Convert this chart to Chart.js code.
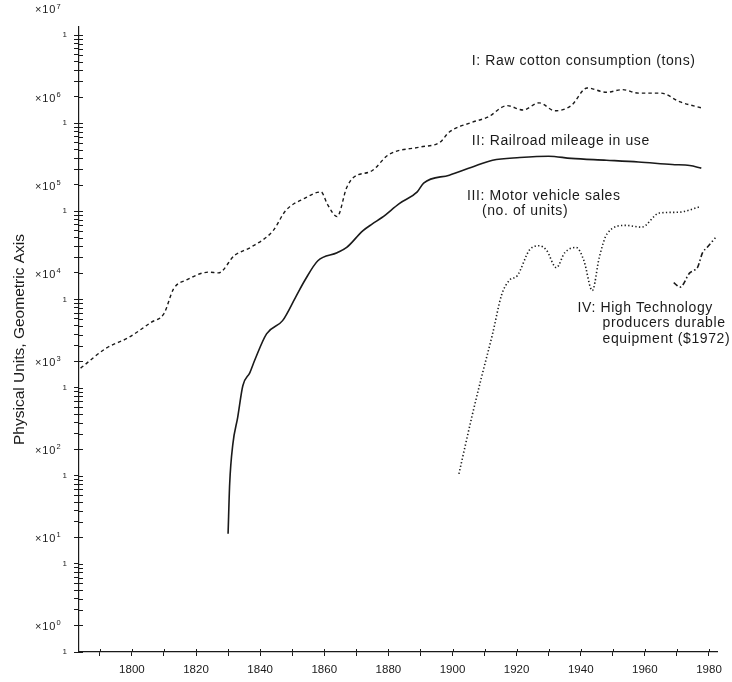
<!DOCTYPE html>
<html>
<head>
<meta charset="utf-8">
<title>Physical Units, Geometric Axis</title>
<script src="https://cdn.jsdelivr.net/npm/chart.js@4.4.1/dist/chart.umd.min.js"></script>
<style>
  html, body { margin: 0; padding: 0; background: #fff; }
</style>
</head>
<body>
<canvas id="chart" width="732" height="682"></canvas>
<script>
// I: raw cotton consumption (tons)
const cottonYears = [1784, 1792, 1799, 1806, 1810, 1813, 1817, 1824, 1827, 1832, 1837, 1844, 1848, 1854, 1859, 1861, 1864, 1867, 1869, 1875, 1880, 1890, 1896, 1899, 1906, 1911, 1917, 1922, 1927, 1932, 1937, 1942, 1948, 1953, 1958, 1965, 1971, 1978];
const cottonTons = [1660, 2800, 3700, 5500, 6900, 13200, 16600, 20400, 20000, 31600, 38900, 60000, 102000, 141000, 166000, 120000, 87000, 186000, 240000, 290000, 437000, 537000, 603000, 794000, 1020000, 1170000, 1580000, 1410000, 1700000, 1380000, 1580000, 2510000, 2240000, 2400000, 2190000, 2190000, 1740000, 1480000];

// II: railroad mileage in use
const railYears = [1830, 1830.5, 1831.5, 1833, 1834.6, 1836.8, 1838.3, 1842, 1847, 1851, 1854, 1858, 1864, 1867, 1872, 1875, 1878, 1883.5, 1889, 1891, 1899, 1906, 1912.5, 1921, 1930, 1937, 1948, 1958, 1968.5, 1974, 1977.6];
const railMiles = [22, 81, 230, 460, 1050, 1480, 2040, 4070, 5750, 10500, 16600, 27500, 33900, 38900, 60000, 72000, 85000, 123000, 166000, 209000, 257000, 316000, 380000, 407000, 422000, 398000, 380000, 363000, 339000, 331000, 309000];

// III: motor vehicle sales (no. of units)
const motorYears = [1902, 1906, 1909, 1912.5, 1915.3, 1917.8, 1920.2, 1924, 1927, 1929.3, 1932.4, 1935, 1938.6, 1941, 1943.6, 1945.8, 1948.3, 1954, 1959, 1964.5, 1970.7, 1977];
const motorUnits = [105, 460, 1290, 4070, 11200, 16600, 18600, 36300, 40700, 36300, 22900, 33900, 38900, 27500, 12600, 30200, 56200, 69200, 66100, 95500, 97700, 112000];

// IV: high technology producers durable equipment ($1972)
const techYears = [1969, 1971, 1974, 1975.4, 1976.4, 1978, 1979.4, 1982];
const techDollars = [15500, 13800, 20000, 21400, 22900, 33900, 38900, 50100];

// axis ticks
const xTickYears = [1790, 1800, 1810, 1820, 1830, 1840, 1850, 1860, 1870, 1880, 1890, 1900, 1910, 1920, 1930, 1940, 1950, 1960, 1970, 1980];
const decadeExponents = [0, 1, 2, 3, 4, 5, 6, 7];

const FONT = '"Liberation Sans", Arial, Helvetica, sans-serif';
const INK = '#1a1a1a';

const decadeValues = new Set(decadeExponents.map(n => Math.pow(10, n)));
const yTicks = [];
decadeExponents.forEach(n => {
  const base = Math.pow(10, n);
  yTicks.push({ value: base, major: true });
  if (n < 7) {
    for (let k = 2; k <= 9; k++) yTicks.push({ value: k * base, major: false });
  }
});

function points(xs, ys) {
  return xs.map((x, i) => ({ x: x, y: ys[i] }));
}

// text labels beside the curves, anchored in data coordinates
const curveLabels = [
  { lines: ['I: Raw cotton consumption (tons)'], year: 1906, value: Math.pow(10, 6.705), indent: 0 },
  { lines: ['II: Railroad mileage in use'], year: 1906, value: Math.pow(10, 5.798), indent: 0 },
  { lines: ['III: Motor vehicle sales', '(no. of units)'], year: 1904.5, value: Math.pow(10, 5.174), indent: 15 },
  { lines: ['IV: High Technology', 'producers durable', 'equipment ($1972)'], year: 1939, value: Math.pow(10, 3.902), indent: 25 }
];

// ticks that cross the axis line
const tickCross = {
  id: 'tickCross',
  afterDraw(chart) {
    const { ctx } = chart;
    const x = chart.scales.x, y = chart.scales.y;
    ctx.save();
    ctx.strokeStyle = INK;
    ctx.lineWidth = 1;
    ctx.beginPath();
    y.ticks.forEach((t, i) => {
      const py = Math.round(y.getPixelForTick(i)) + 0.5;
      ctx.moveTo(y.right, py);
      ctx.lineTo(y.right + 4, py);
    });
    x.ticks.forEach((t, i) => {
      const px = Math.round(x.getPixelForTick(i)) + 0.5;
      ctx.moveTo(px, x.top);
      ctx.lineTo(px, x.top - 3);
    });
    ctx.stroke();
    ctx.restore();
  }
};

// "x10^n" decade labels and the curve captions
const textLayer = {
  id: 'textLayer',
  afterDraw(chart) {
    const { ctx } = chart;
    const x = chart.scales.x, y = chart.scales.y;
    ctx.save();
    ctx.fillStyle = INK;
    ctx.textBaseline = 'middle';
    ctx.textAlign = 'left';

    decadeExponents.forEach(n => {
      const py = y.getPixelForValue(1.9 * Math.pow(10, n));
      const left = y.right - 44;
      ctx.font = '11px ' + FONT;
      ctx.letterSpacing = '0.8px';
      ctx.fillText('\u00d710', left, py);
      const w = ctx.measureText('\u00d710').width;
      ctx.font = '7.5px ' + FONT;
      ctx.letterSpacing = '0px';
      ctx.fillText(String(n), left + w + 0.5, py - 4);
    });

    ctx.font = '14px ' + FONT;
    ctx.letterSpacing = '0.6px';
    curveLabels.forEach(lab => {
      const px = x.getPixelForValue(lab.year);
      const py = y.getPixelForValue(lab.value);
      lab.lines.forEach((line, i) => {
        ctx.fillText(line, px + (i ? lab.indent : 0), py + i * 15.5);
      });
    });
    ctx.restore();
  }
};

const ctx = document.getElementById('chart').getContext('2d');
new Chart(ctx, {
  type: 'line',
  data: {
    datasets: [
      {
        label: 'I: Raw cotton consumption (tons)',
        data: points(cottonYears, cottonTons),
        borderColor: INK,
        borderWidth: 1.4,
        borderDash: [3.5, 3]
      },
      {
        label: 'II: Railroad mileage in use',
        data: points(railYears, railMiles),
        borderColor: INK,
        borderWidth: 1.6
      },
      {
        label: 'III: Motor vehicle sales (no. of units)',
        data: points(motorYears, motorUnits),
        borderColor: INK,
        borderWidth: 1.6,
        borderDash: [1.3, 2.3]
      },
      {
        label: 'IV: High Technology producers durable equipment ($1972)',
        data: points(techYears, techDollars),
        borderColor: INK,
        borderWidth: 1.6,
        borderDash: [5, 2.5, 1.5, 2.5]
      }
    ]
  },
  options: {
    responsive: false,
    animation: false,
    layout: { padding: { top: 27, right: 15, left: 0, bottom: 0 } },
    elements: {
      point: { radius: 0, hoverRadius: 0 },
      line: { cubicInterpolationMode: 'monotone', fill: false }
    },
    plugins: {
      legend: { display: false },
      tooltip: { enabled: false }
    },
    scales: {
      x: {
        type: 'linear',
        min: 1783.5,
        max: 1982.5,
        afterBuildTicks: s => { s.ticks = xTickYears.map(v => ({ value: v })); },
        afterFit: s => { s.height = 30; },
        ticks: {
          autoSkip: false,
          maxRotation: 0,
          padding: 7,
          color: INK,
          font: { family: FONT, size: 11.5 },
          callback: v => (v % 20 === 0 ? String(v) : '')
        },
        grid: { drawOnChartArea: false, drawTicks: true, tickLength: 4, color: INK },
        border: { color: INK, width: 1.2 }
      },
      y: {
        type: 'logarithmic',
        min: 1,
        max: Math.pow(10, 7 + 8 / 88),
        bounds: 'data',
        afterBuildTicks: s => { s.ticks = yTicks.map(t => ({ value: t.value, major: t.major })); },
        afterFit: s => { s.width = 79; },
        ticks: {
          autoSkip: false,
          padding: 7,
          color: INK,
          font: { family: FONT, size: 8 },
          callback: v => (decadeValues.has(v) ? '1' : '')
        },
        grid: { drawOnChartArea: false, drawTicks: true, tickLength: 5, color: INK },
        border: { color: INK, width: 1.2 },
        title: {
          display: true,
          text: 'Physical Units, Geometric Axis',
          color: INK,
          font: { family: FONT, size: 15.5 },
          padding: { top: 10, bottom: 0 }
        }
      }
    }
  },
  plugins: [tickCross, textLayer]
});
</script>
</body>
</html>
